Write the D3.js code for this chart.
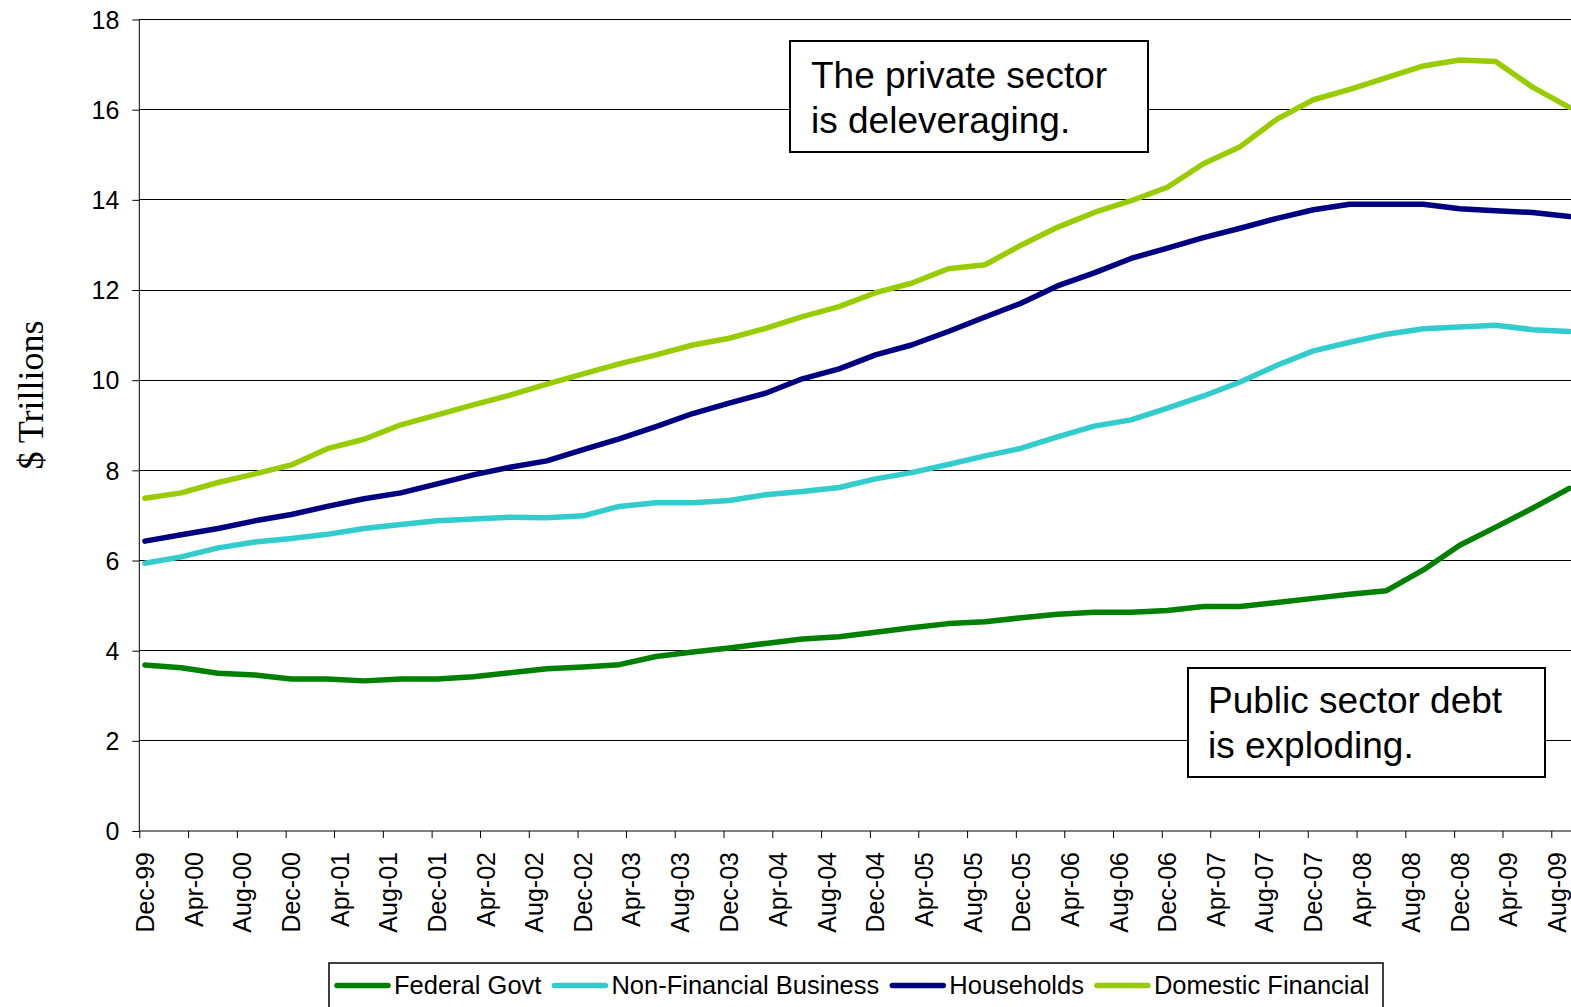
<!DOCTYPE html>
<html>
<head>
<meta charset="utf-8">
<script src="https://cdn.jsdelivr.net/npm/d3@7"></script>
<style>
  html, body { margin: 0; padding: 0; background: #ffffff; }
  svg { display: block; }
</style>
</head>
<body>
<svg id="chart" width="1571" height="1007"></svg>
<script>
// ---------- DATA ----------
const quarters = [
  "Dec-99","Mar-00","Jun-00","Sep-00","Dec-00","Mar-01","Jun-01","Sep-01",
  "Dec-01","Mar-02","Jun-02","Sep-02","Dec-02","Mar-03","Jun-03","Sep-03",
  "Dec-03","Mar-04","Jun-04","Sep-04","Dec-04","Mar-05","Jun-05","Sep-05",
  "Dec-05","Mar-06","Jun-06","Sep-06","Dec-06","Mar-07","Jun-07","Sep-07",
  "Dec-07","Mar-08","Jun-08","Sep-08","Dec-08","Mar-09","Jun-09","Sep-09"
];

const federalGovt = [
  3.68, 3.62, 3.50, 3.46, 3.37, 3.37, 3.33, 3.37,
  3.37, 3.42, 3.51, 3.60, 3.64, 3.69, 3.87, 3.97,
  4.06, 4.16, 4.26, 4.31, 4.41, 4.51, 4.60, 4.64,
  4.73, 4.81, 4.85, 4.85, 4.89, 4.98, 4.98, 5.07,
  5.16, 5.25, 5.33, 5.79, 6.34, 6.74, 7.16, 7.60
];

const nonFinancialBusiness = [
  5.94, 6.08, 6.28, 6.41, 6.49, 6.58, 6.71, 6.80,
  6.88, 6.92, 6.96, 6.95, 6.99, 7.20, 7.28, 7.28,
  7.33, 7.46, 7.53, 7.62, 7.81, 7.95, 8.13, 8.32,
  8.49, 8.74, 8.98, 9.12, 9.38, 9.65, 9.96, 10.33,
  10.65, 10.84, 11.02, 11.14, 11.18, 11.22, 11.12, 11.08
];

const households = [
  6.43, 6.57, 6.71, 6.88, 7.02, 7.20, 7.37, 7.50,
  7.70, 7.90, 8.07, 8.21, 8.46, 8.70, 8.97, 9.26,
  9.49, 9.71, 10.03, 10.25, 10.56, 10.78, 11.08, 11.40,
  11.71, 12.09, 12.38, 12.70, 12.93, 13.16, 13.37, 13.59,
  13.78, 13.90, 13.90, 13.90, 13.80, 13.76, 13.72, 13.63
];

const domesticFinancial = [
  7.38, 7.50, 7.73, 7.92, 8.12, 8.48, 8.69, 9.01,
  9.23, 9.45, 9.67, 9.91, 10.14, 10.36, 10.56, 10.78,
  10.93, 11.15, 11.41, 11.63, 11.94, 12.15, 12.47, 12.56,
  13.00, 13.39, 13.72, 13.98, 14.28, 14.80, 15.18, 15.79,
  16.22, 16.45, 16.71, 16.97, 17.10, 17.07, 16.50, 16.05
];

const seriesNames = ["Federal Govt", "Non-Financial Business", "Households", "Domestic Financial"];
const seriesColors = ["#008000", "#33CCCC", "#000080", "#99CC00"];
const seriesValues = [federalGovt, nonFinancialBusiness, households, domesticFinancial];

const xTickLabels = [
  "Dec-99","Apr-00","Aug-00","Dec-00","Apr-01","Aug-01","Dec-01","Apr-02",
  "Aug-02","Dec-02","Apr-03","Aug-03","Dec-03","Apr-04","Aug-04","Dec-04",
  "Apr-05","Aug-05","Dec-05","Apr-06","Aug-06","Dec-06","Apr-07","Aug-07",
  "Dec-07","Apr-08","Aug-08","Dec-08","Apr-09","Aug-09"
];
const yTickValues = [0, 2, 4, 6, 8, 10, 12, 14, 16, 18];

const yAxisTitle = "$ Trillions";
const note1 = ["The private sector", "is deleveraging."];
const note2 = ["Public sector debt", "is exploding."];

// ---------- LAYOUT ----------
const W = 1571, H = 1007;
const plotLeft = 139.3, plotRight = W, plotTop = 19.5, plotBottom = 831;
const svg = d3.select("#chart");

const parse = d3.timeParse("%b-%y");
const tickDates = xTickLabels.map(parse);
const pointDates = quarters.map(q => d3.timeDay.offset(parse(q), 14));

const x = d3.scaleTime()
  .domain([tickDates[0], tickDates[tickDates.length - 1]])
  .range([plotLeft, 1551.3]);
const y = d3.scaleLinear().domain([0, 18]).range([plotBottom, plotTop]);

// gridlines
svg.append("g")
  .selectAll("line")
  .data(yTickValues.filter(v => v > 0))
  .join("line")
  .attr("x1", plotLeft).attr("x2", plotRight)
  .attr("y1", d => y(d)).attr("y2", d => y(d))
  .attr("stroke", "#000").attr("stroke-width", 1)
  .attr("shape-rendering", "crispEdges");

// y axis
const yAxis = d3.axisLeft(y).tickValues(yTickValues).tickSize(7).tickPadding(13);
const gy = svg.append("g").attr("transform", `translate(${plotLeft},0)`).call(yAxis);
gy.select(".domain").attr("stroke", "#000").attr("d", `M-0,${plotTop}V${plotBottom}`);
gy.selectAll(".tick line").attr("stroke", "#000");
gy.selectAll(".tick text")
  .attr("font-family", "'Liberation Sans', Arial, sans-serif")
  .attr("font-size", 25).attr("fill", "#000")
  .attr("dy", "0.35em");

// x axis
const xAxis = d3.axisBottom(x).tickValues(tickDates)
  .tickFormat((d, i) => xTickLabels[i]).tickSize(7);
const gx = svg.append("g").attr("transform", `translate(0,${plotBottom})`).call(xAxis);
gx.select(".domain").attr("stroke", "#000").attr("d", `M${plotLeft},0H${plotRight}`);
gx.selectAll(".tick line").attr("stroke", "#000");
gx.selectAll(".tick text")
  .attr("font-family", "'Liberation Sans', Arial, sans-serif")
  .attr("font-size", 25).attr("fill", "#000")
  .attr("text-anchor", "end")
  .attr("y", 0).attr("dy", 0)
  .attr("transform", "translate(14,21) rotate(-90)");

// y axis title
svg.append("text")
  .attr("transform", "translate(43,395) rotate(-90)")
  .attr("text-anchor", "middle")
  .attr("font-family", "'Liberation Serif', 'Times New Roman', serif")
  .attr("font-size", 36).attr("fill", "#000")
  .text(yAxisTitle);

// series lines
const line = d3.line()
  .x((d, i) => x(pointDates[i]))
  .y(d => y(d));

svg.append("g")
  .selectAll("path")
  .data(seriesValues)
  .join("path")
  .attr("d", d => line(d))
  .attr("fill", "none")
  .attr("stroke", (d, i) => seriesColors[i])
  .attr("stroke-width", 5.5)
  .attr("stroke-linejoin", "round")
  .attr("stroke-linecap", "round");

// annotation boxes
function note(lines, bx, by, bw, bh, tx, ty) {
  const g = svg.append("g");
  g.append("rect").attr("x", bx).attr("y", by).attr("width", bw).attr("height", bh)
    .attr("fill", "#fff").attr("stroke", "#000").attr("stroke-width", 2);
  g.selectAll("text").data(lines).join("text")
    .attr("x", tx).attr("y", (d, i) => ty + i * 45)
    .attr("font-family", "'Liberation Sans', Arial, sans-serif")
    .attr("font-size", 37).attr("fill", "#000")
    .text(d => d);
}
note(note1, 790, 41, 358, 111, 811, 88);
note(note2, 1188, 668, 357, 109, 1208, 713);

// legend
const lg = svg.append("g");
lg.append("rect").attr("x", 329).attr("y", 963).attr("width", 1054).attr("height", 60)
  .attr("fill", "#fff").attr("stroke", "#000").attr("stroke-width", 1.5);
let cx = 337;
seriesNames.forEach((name, i) => {
  lg.append("line").attr("x1", cx).attr("x2", cx + 51)
    .attr("y1", 985.5).attr("y2", 985.5)
    .attr("stroke", seriesColors[i]).attr("stroke-width", 5.5)
    .attr("stroke-linecap", "round");
  const t = lg.append("text").attr("x", cx + 57).attr("y", 994)
    .attr("font-family", "'Liberation Sans', Arial, sans-serif")
    .attr("font-size", 25.5).attr("fill", "#000")
    .text(name);
  cx = cx + 57 + t.node().getComputedTextLength() + 13;
});
</script>
</body>
</html>
